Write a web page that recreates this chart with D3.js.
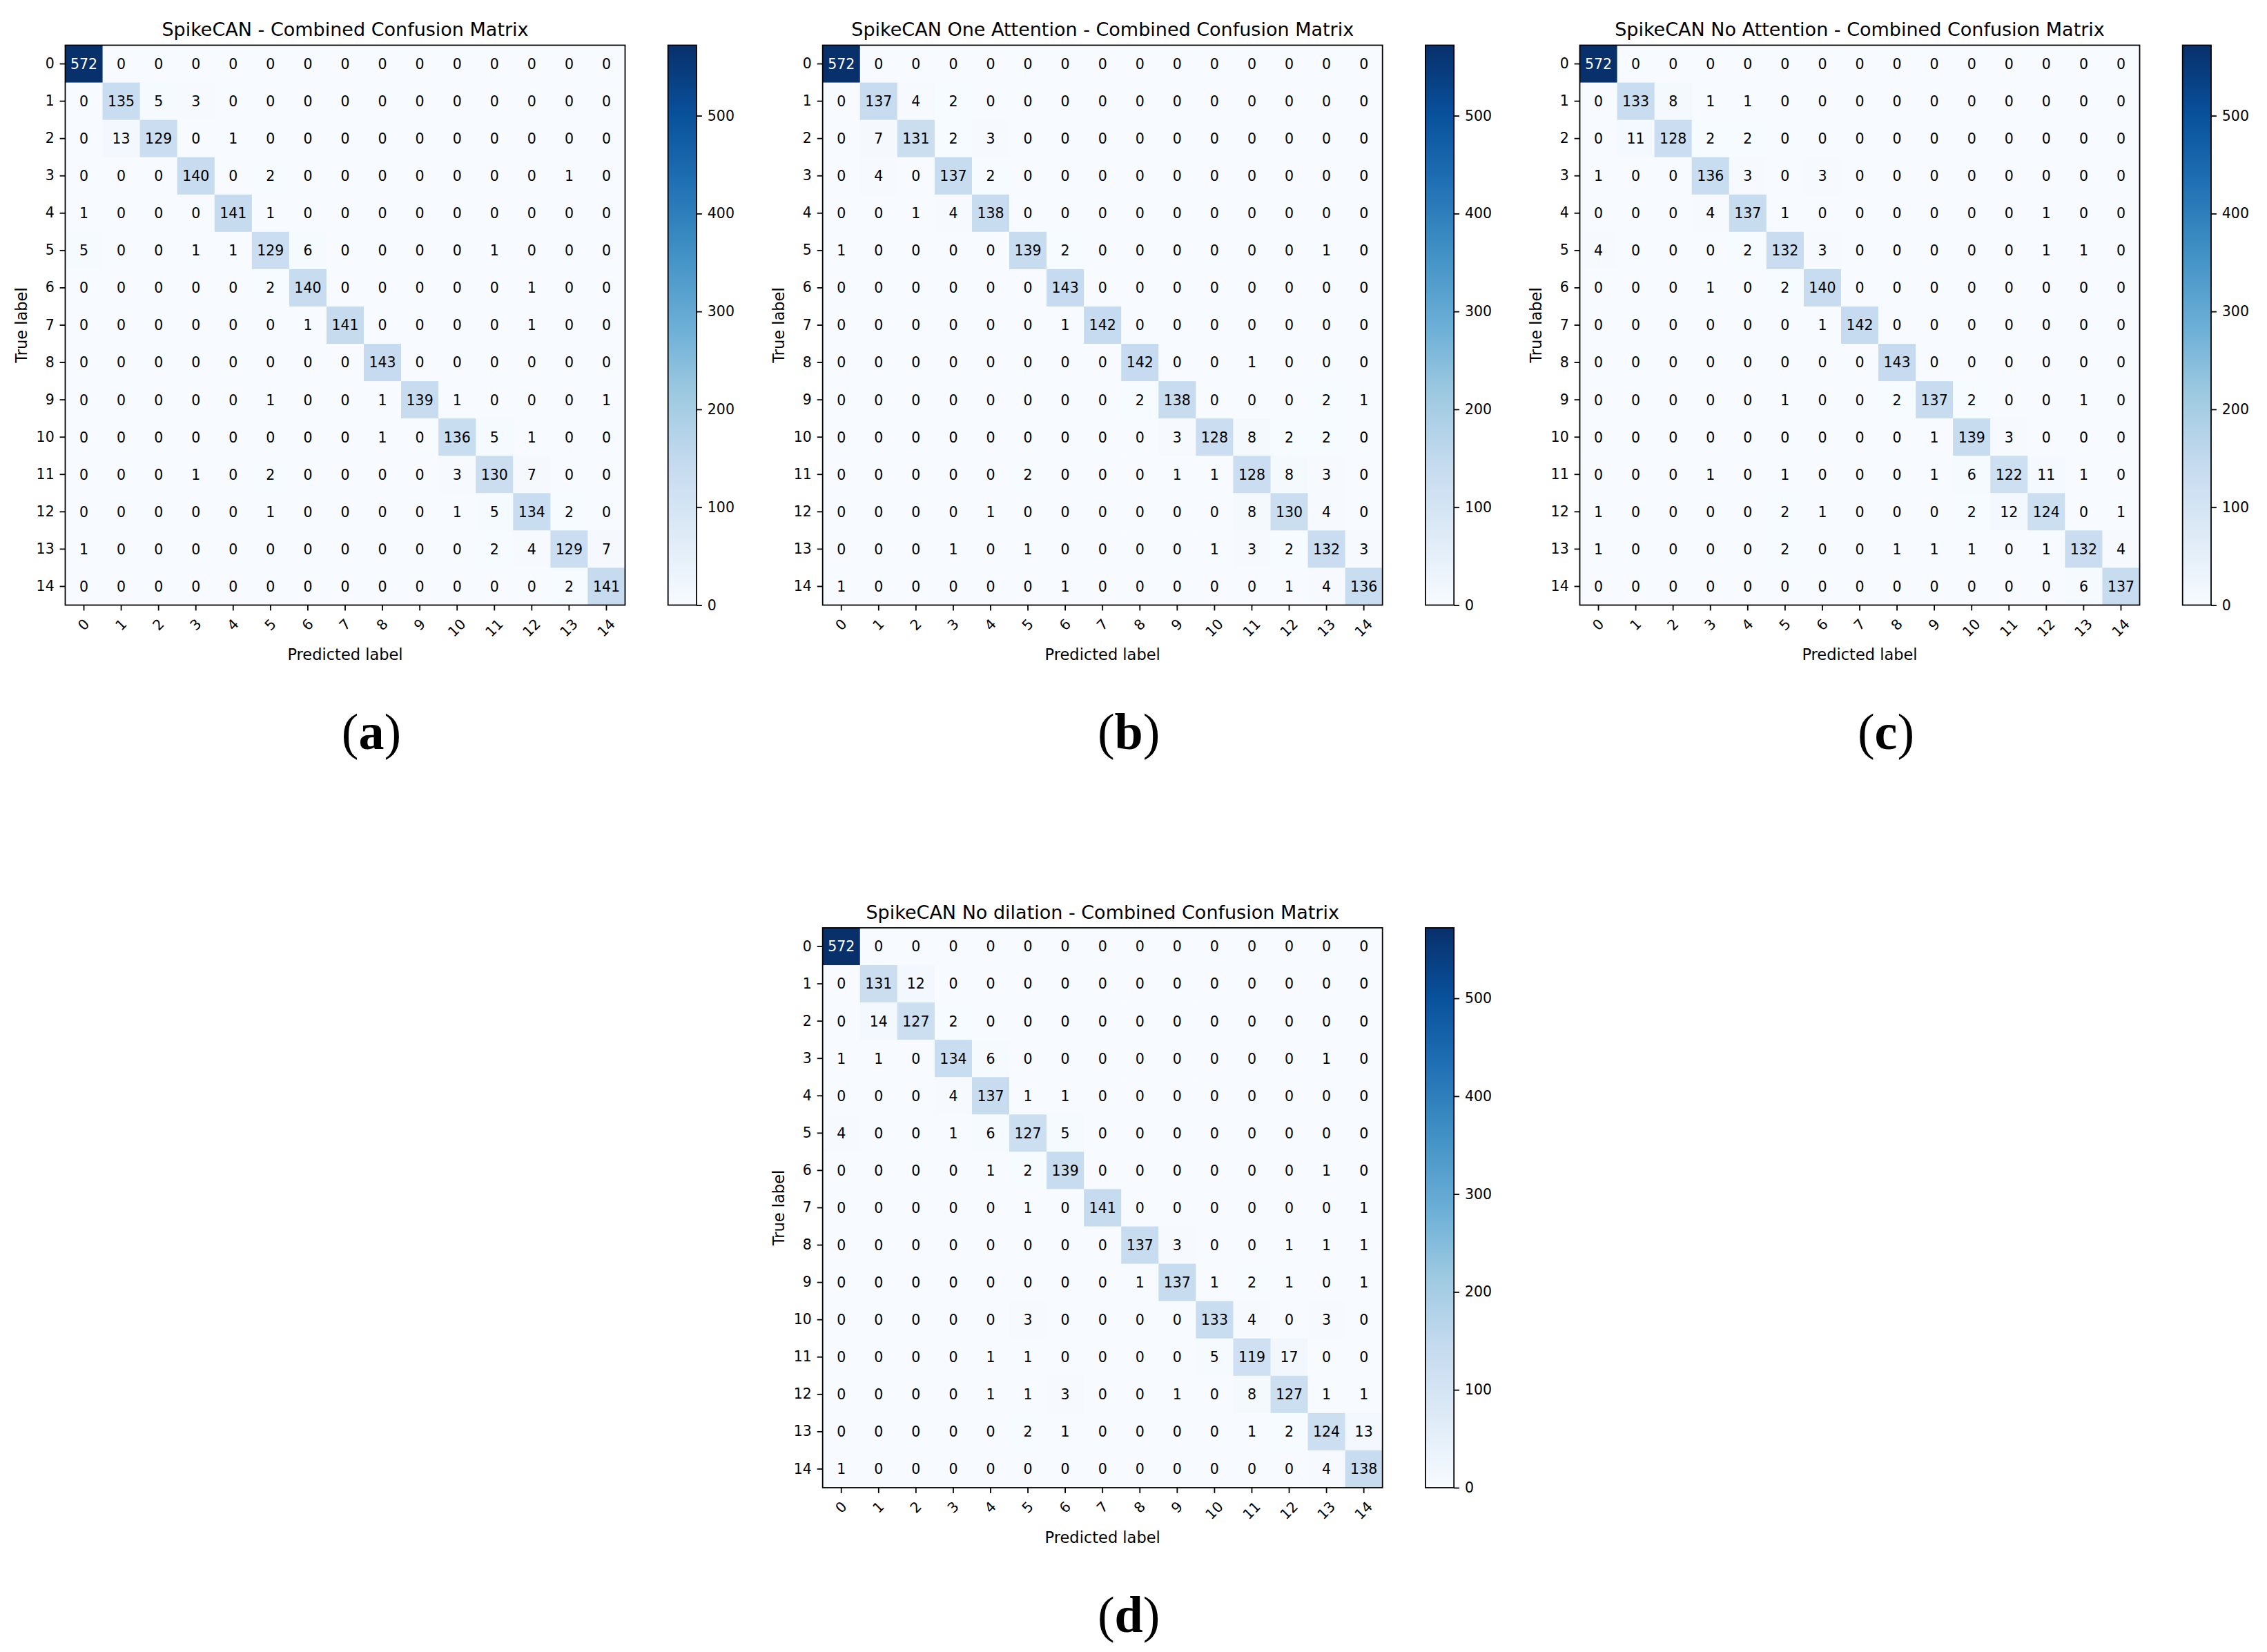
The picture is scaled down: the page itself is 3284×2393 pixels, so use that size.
<!DOCTYPE html>
<html>
<head>
<meta charset="utf-8">
<script src="https://cdn.jsdelivr.net/npm/d3@7"></script>
<style>
  html, body { margin: 0; padding: 0; background: #fff; }
  svg text { font-family: "DejaVu Sans", sans-serif; }
</style>
</head>
<body>
<svg id="fig" width="3284" height="2393"></svg>
<script>
// class labels 0..14
const classLabels = d3.range(15).map(String);

// confusion matrices (rows = true label, cols = predicted label)
const cmSpikeCAN = [
  [572,0,0,0,0,0,0,0,0,0,0,0,0,0,0],
  [0,135,5,3,0,0,0,0,0,0,0,0,0,0,0],
  [0,13,129,0,1,0,0,0,0,0,0,0,0,0,0],
  [0,0,0,140,0,2,0,0,0,0,0,0,0,1,0],
  [1,0,0,0,141,1,0,0,0,0,0,0,0,0,0],
  [5,0,0,1,1,129,6,0,0,0,0,1,0,0,0],
  [0,0,0,0,0,2,140,0,0,0,0,0,1,0,0],
  [0,0,0,0,0,0,1,141,0,0,0,0,1,0,0],
  [0,0,0,0,0,0,0,0,143,0,0,0,0,0,0],
  [0,0,0,0,0,1,0,0,1,139,1,0,0,0,1],
  [0,0,0,0,0,0,0,0,1,0,136,5,1,0,0],
  [0,0,0,1,0,2,0,0,0,0,3,130,7,0,0],
  [0,0,0,0,0,1,0,0,0,0,1,5,134,2,0],
  [1,0,0,0,0,0,0,0,0,0,0,2,4,129,7],
  [0,0,0,0,0,0,0,0,0,0,0,0,0,2,141]
];

const cmOneAttention = [
  [572,0,0,0,0,0,0,0,0,0,0,0,0,0,0],
  [0,137,4,2,0,0,0,0,0,0,0,0,0,0,0],
  [0,7,131,2,3,0,0,0,0,0,0,0,0,0,0],
  [0,4,0,137,2,0,0,0,0,0,0,0,0,0,0],
  [0,0,1,4,138,0,0,0,0,0,0,0,0,0,0],
  [1,0,0,0,0,139,2,0,0,0,0,0,0,1,0],
  [0,0,0,0,0,0,143,0,0,0,0,0,0,0,0],
  [0,0,0,0,0,0,1,142,0,0,0,0,0,0,0],
  [0,0,0,0,0,0,0,0,142,0,0,1,0,0,0],
  [0,0,0,0,0,0,0,0,2,138,0,0,0,2,1],
  [0,0,0,0,0,0,0,0,0,3,128,8,2,2,0],
  [0,0,0,0,0,2,0,0,0,1,1,128,8,3,0],
  [0,0,0,0,1,0,0,0,0,0,0,8,130,4,0],
  [0,0,0,1,0,1,0,0,0,0,1,3,2,132,3],
  [1,0,0,0,0,0,1,0,0,0,0,0,1,4,136]
];

const cmNoAttention = [
  [572,0,0,0,0,0,0,0,0,0,0,0,0,0,0],
  [0,133,8,1,1,0,0,0,0,0,0,0,0,0,0],
  [0,11,128,2,2,0,0,0,0,0,0,0,0,0,0],
  [1,0,0,136,3,0,3,0,0,0,0,0,0,0,0],
  [0,0,0,4,137,1,0,0,0,0,0,0,1,0,0],
  [4,0,0,0,2,132,3,0,0,0,0,0,1,1,0],
  [0,0,0,1,0,2,140,0,0,0,0,0,0,0,0],
  [0,0,0,0,0,0,1,142,0,0,0,0,0,0,0],
  [0,0,0,0,0,0,0,0,143,0,0,0,0,0,0],
  [0,0,0,0,0,1,0,0,2,137,2,0,0,1,0],
  [0,0,0,0,0,0,0,0,0,1,139,3,0,0,0],
  [0,0,0,1,0,1,0,0,0,1,6,122,11,1,0],
  [1,0,0,0,0,2,1,0,0,0,2,12,124,0,1],
  [1,0,0,0,0,2,0,0,1,1,1,0,1,132,4],
  [0,0,0,0,0,0,0,0,0,0,0,0,0,6,137]
];

const cmNoDilation = [
  [572,0,0,0,0,0,0,0,0,0,0,0,0,0,0],
  [0,131,12,0,0,0,0,0,0,0,0,0,0,0,0],
  [0,14,127,2,0,0,0,0,0,0,0,0,0,0,0],
  [1,1,0,134,6,0,0,0,0,0,0,0,0,1,0],
  [0,0,0,4,137,1,1,0,0,0,0,0,0,0,0],
  [4,0,0,1,6,127,5,0,0,0,0,0,0,0,0],
  [0,0,0,0,1,2,139,0,0,0,0,0,0,1,0],
  [0,0,0,0,0,1,0,141,0,0,0,0,0,0,1],
  [0,0,0,0,0,0,0,0,137,3,0,0,1,1,1],
  [0,0,0,0,0,0,0,0,1,137,1,2,1,0,1],
  [0,0,0,0,0,3,0,0,0,0,133,4,0,3,0],
  [0,0,0,0,1,1,0,0,0,0,5,119,17,0,0],
  [0,0,0,0,1,1,3,0,0,1,0,8,127,1,1],
  [0,0,0,0,0,2,1,0,0,0,0,1,2,124,13],
  [1,0,0,0,0,0,0,0,0,0,0,0,0,4,138]
];

const matrices = [cmSpikeCAN, cmOneAttention, cmNoAttention, cmNoDilation];
const titles = [
  "SpikeCAN - Combined Confusion Matrix",
  "SpikeCAN One Attention - Combined Confusion Matrix",
  "SpikeCAN No Attention - Combined Confusion Matrix",
  "SpikeCAN No dilation - Combined Confusion Matrix"
];
const panelTags = ["a", "b", "c", "d"];
const colorbarTicks = [0, 100, 200, 300, 400, 500];

// matplotlib "Blues" anchor colours
const blues = ["#f7fbff","#deebf7","#c6dbef","#9ecae1","#6baed6","#4292c6","#2171b5","#08519c","#08306b"];

// layout (top-left corner of each heatmap)
const panels = [
  { x: 94.5, y: 65.5 },
  { x: 1191.7, y: 65.5 },
  { x: 2288.5, y: 65.5 },
  { x: 1191.7, y: 1344 }
];
const size = 811;
const tickLen = 7.9, tickPad = 7.9;
const tickFont = 20.5, cellFont = 20.5, titleFont = 27, labelFont = 22.5;
const cbGap = 62.2, cbWidth = 41.3;

const svg = d3.select("#fig");
svg.append("rect").attr("width", 3284).attr("height", 2393).attr("fill", "#fff");

const defs = svg.append("defs");
const grad = defs.append("linearGradient")
  .attr("id", "bluesGrad")
  .attr("x1", 0).attr("y1", 1).attr("x2", 0).attr("y2", 0);
grad.selectAll("stop")
  .data(blues)
  .enter().append("stop")
  .attr("offset", (d, i) => i / (blues.length - 1))
  .attr("stop-color", d => d);

matrices.forEach((cm, k) => {
  const vmax = d3.max(cm.flat());
  const color = d3.scaleLinear()
    .domain(blues.map((d, i) => i / (blues.length - 1) * vmax))
    .range(blues)
    .interpolate(d3.interpolateRgb);

  const x = d3.scaleBand().domain(classLabels).range([0, size]);
  const y = d3.scaleBand().domain(classLabels).range([0, size]);

  const g = svg.append("g").attr("transform", `translate(${panels[k].x},${panels[k].y})`);

  const cells = cm.flatMap((row, i) => row.map((v, j) => ({ r: classLabels[i], c: classLabels[j], v })));

  g.append("g").selectAll("rect")
    .data(cells)
    .enter().append("rect")
    .attr("x", d => x(d.c))
    .attr("y", d => y(d.r))
    .attr("width", x.bandwidth() + 0.5)
    .attr("height", y.bandwidth() + 0.5)
    .attr("fill", d => color(d.v));

  g.append("g").selectAll("text")
    .data(cells)
    .enter().append("text")
    .attr("x", d => x(d.c) + x.bandwidth() / 2)
    .attr("y", d => y(d.r) + y.bandwidth() / 2)
    .attr("text-anchor", "middle")
    .attr("dy", "0.36em")
    .attr("font-size", cellFont)
    .attr("fill", d => d.v > vmax / 2 ? "#fff" : "#000")
    .text(d => d.v);

  // frame
  g.append("rect")
    .attr("width", size).attr("height", size)
    .attr("fill", "none").attr("stroke", "#000").attr("stroke-width", 1.8);

  // y axis
  const yAxis = g.append("g")
    .call(d3.axisLeft(y).tickSize(tickLen).tickPadding(tickPad));
  yAxis.select(".domain").remove();
  yAxis.selectAll("line").attr("stroke", "#000").attr("stroke-width", 1.8);
  yAxis.selectAll("text").attr("font-size", tickFont).attr("font-family", "DejaVu Sans").attr("fill", "#000");

  // x axis with 45° labels
  const xAxis = g.append("g")
    .attr("transform", `translate(0,${size})`)
    .call(d3.axisBottom(x).tickSize(tickLen).tickPadding(tickPad));
  xAxis.select(".domain").remove();
  xAxis.selectAll("line").attr("stroke", "#000").attr("stroke-width", 1.8);
  xAxis.selectAll("text")
    .attr("font-size", tickFont).attr("font-family", "DejaVu Sans").attr("fill", "#000")
    .each(function () {
      const t = d3.select(this);
      const w = this.getComputedTextLength();
      const h = tickFont * 1.164;
      const half = (w + h) / (2 * Math.SQRT2);
      t.attr("y", 0).attr("dy", "0.32em")
        .attr("text-anchor", "middle")
        .attr("transform", `translate(0,${tickLen + tickPad + half}) rotate(-45)`);
    });

  // axis titles
  g.append("text")
    .attr("transform", `translate(-64,${size / 2}) rotate(-90)`)
    .attr("text-anchor", "middle").attr("dy", "0.36em")
    .attr("font-size", labelFont)
    .text("True label");
  g.append("text")
    .attr("x", size / 2).attr("y", size + 71.5)
    .attr("text-anchor", "middle").attr("dy", "0.36em")
    .attr("font-size", labelFont)
    .text("Predicted label");

  // chart title
  g.append("text")
    .attr("x", size / 2).attr("y", -13.5)
    .attr("text-anchor", "middle")
    .attr("font-size", titleFont)
    .text(titles[k]);

  // colorbar
  const cb = g.append("g").attr("transform", `translate(${size + cbGap},0)`);
  const cbScale = d3.scaleLinear().domain([0, vmax]).range([size, 0]);
  cb.append("rect")
    .attr("width", cbWidth).attr("height", size)
    .attr("fill", "url(#bluesGrad)");
  cb.append("rect")
    .attr("width", cbWidth).attr("height", size)
    .attr("fill", "none").attr("stroke", "#000").attr("stroke-width", 1.8);
  const cbAxis = cb.append("g")
    .attr("transform", `translate(${cbWidth},0)`)
    .call(d3.axisRight(cbScale).tickValues(colorbarTicks).tickSize(tickLen).tickPadding(tickPad));
  cbAxis.select(".domain").remove();
  cbAxis.selectAll("line").attr("stroke", "#000").attr("stroke-width", 1.8);
  cbAxis.selectAll("text").attr("font-size", tickFont).attr("font-family", "DejaVu Sans").attr("fill", "#000");

  // subfigure tag
  const tag = g.append("text")
    .attr("x", size / 2 + 38).attr("y", 1019.5)
    .attr("text-anchor", "middle")
    .attr("font-size", 74)
    .style("font-family", "'Liberation Serif', 'DejaVu Serif', serif");
  tag.append("tspan").text("(");
  tag.append("tspan").attr("font-weight", "bold").text(panelTags[k]);
  tag.append("tspan").text(")");
});
</script>
</body>
</html>
